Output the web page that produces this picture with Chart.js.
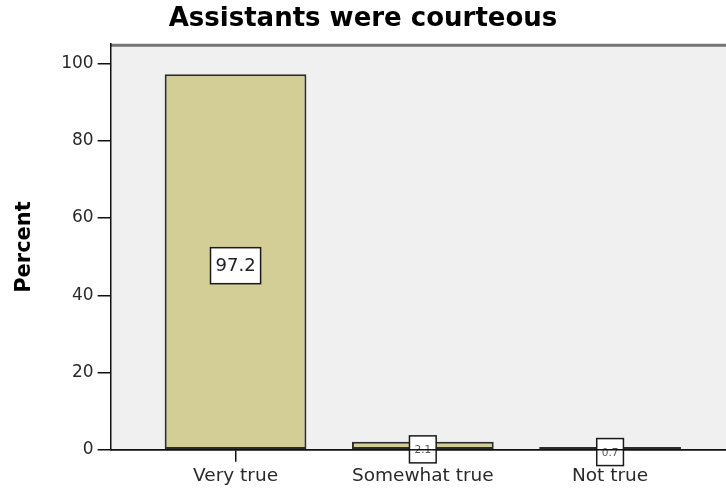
<!DOCTYPE html>
<html>
<head>
<meta charset="utf-8">
<title>Assistants were courteous</title>
<script src="https://cdn.jsdelivr.net/npm/chart.js@4.4.0/dist/chart.umd.min.js"></script>
<style>
    body { margin: 0; background: #fff; overflow: hidden; }
    #wrap { width: 726px; height: 490px; position: relative; }
</style>
</head>
<body>
<div id="wrap"><canvas id="courtesyChart"></canvas></div>
<script>
const categories = ['Very true', 'Somewhat true', 'Not true'];
const percent = [97.2, 2.1, 0.7];
const yTicks = [0, 20, 40, 60, 80, 100];

const FONT = "'DejaVu Sans', sans-serif";

// grey plot background and the frame line along its top
const plotFrame = {
    id: 'plotFrame',
    beforeDraw(chart) {
        const { ctx, chartArea: a } = chart;
        ctx.save();
        ctx.fillStyle = '#f0f0f0';
        ctx.fillRect(a.left, a.top, a.right - a.left, a.bottom - a.top);
        ctx.strokeStyle = '#747474';
        ctx.lineWidth = 3;
        ctx.beginPath();
        ctx.moveTo(a.left, a.top + 1);
        ctx.lineTo(a.right, a.top + 1);
        ctx.stroke();
        ctx.restore();
    }
};

// boxed value labels in the middle of each bar
const boxLabels = {
    id: 'boxLabels',
    afterDatasetsDraw(chart) {
        const ctx = chart.ctx;
        const meta = chart.getDatasetMeta(0);
        ctx.save();
        meta.data.forEach(function(bar, i) {
            const p = bar.getProps(['x', 'y', 'base'], true);
            const small = (p.base - p.y) < 40;
            const size = small ? 10.5 : 18;
            const text = percent[i].toFixed(1);
            ctx.font = size + 'px ' + FONT;
            const w = ctx.measureText(text).width + 10;
            const h = small ? 27 : 36;
            const cy = (p.y + p.base) / 2 + 4;
            ctx.fillStyle = '#ffffff';
            ctx.fillRect(p.x - w / 2, cy - h / 2, w, h);
            ctx.strokeStyle = '#1a1a1a';
            ctx.lineWidth = 1.5;
            ctx.strokeRect(p.x - w / 2, cy - h / 2, w, h);
            ctx.fillStyle = small ? '#555' : '#222';
            ctx.textAlign = 'center';
            ctx.textBaseline = 'middle';
            ctx.fillText(text, p.x, cy + 1);
        });
        // the zero line sits over the small boxes
        const y0 = chart.scales.y.getPixelForValue(0);
        ctx.strokeStyle = '#111';
        ctx.lineWidth = 1.5;
        ctx.beginPath();
        ctx.moveTo(chart.chartArea.left, y0);
        ctx.lineTo(chart.chartArea.right, y0);
        ctx.stroke();
        ctx.restore();
    }
};

const ctx = document.getElementById('courtesyChart').getContext('2d');
const courtesyChart = new Chart(ctx, {
    type: 'bar',
    data: {
        datasets: [{
            data: percent.map(function(v, i) { return { x: i, y: v }; }),
            backgroundColor: '#d2ce96',
            borderColor: '#2c2c2c',
            borderWidth: 2,
            borderSkipped: false,
            categoryPercentage: 1,
            barPercentage: 0.757
        }]
    },
    options: {
        responsive: true,
        maintainAspectRatio: false,
        animation: false,
        layout: { padding: { left: 0, right: 0, top: 0, bottom: 0 } },
        plugins: {
            legend: { display: false },
            tooltip: { enabled: false },
            title: {
                display: true,
                text: 'Assistants were courteous',
                color: '#000',
                font: { family: FONT, size: 26, weight: 'bold' },
                padding: { top: 4, bottom: 9 }
            }
        },
        scales: {
            x: {
                type: 'linear',
                offset: false,
                min: -0.667,
                max: 2.619,
                afterBuildTicks: function(scale) {
                    scale.ticks = categories.map(function(c, i) { return { value: i }; });
                },
                grid: {
                    offset: false,
                    drawOnChartArea: false,
                    color: '#111',
                    tickLength: 12,
                    lineWidth: 1.5
                },
                border: { display: true, color: '#111', width: 1.5 },
                ticks: {
                    autoSkip: false,
                    maxRotation: 0,
                    padding: 3,
                    color: '#2a2a2a',
                    font: { family: FONT, size: 18.5 },
                    callback: function(v) { return categories[v]; }
                }
            },
            y: {
                min: 0,
                max: 105,
                afterBuildTicks: function(scale) {
                    scale.ticks = yTicks.map(function(v) { return { value: v }; });
                },
                grid: {
                    drawOnChartArea: false,
                    color: '#111',
                    tickLength: 13,
                    lineWidth: 1.5
                },
                border: { display: true, color: '#111', width: 1.5 },
                ticks: {
                    padding: 4,
                    color: '#2a2a2a',
                    font: { family: FONT, size: 17 }
                },
                title: {
                    display: true,
                    text: 'Percent',
                    color: '#000',
                    font: { family: FONT, size: 21, weight: 'bold' },
                    padding: { top: 12, bottom: 20 }
                }
            }
        }
    },
    plugins: [plotFrame, boxLabels]
});
</script>
</body>
</html>
